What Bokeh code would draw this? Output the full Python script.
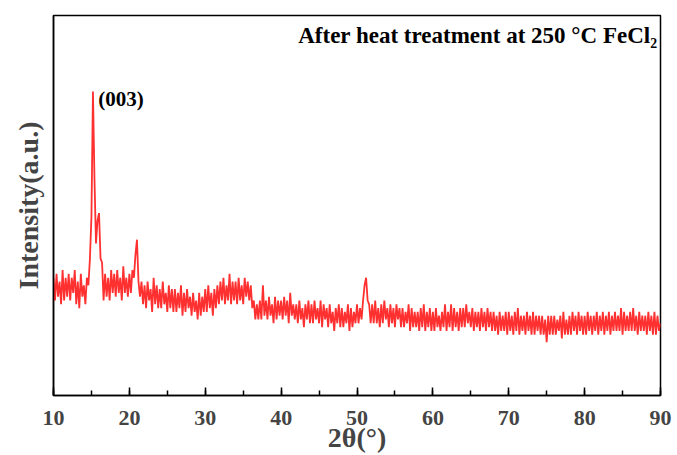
import numpy as np
from bokeh.plotting import figure
from bokeh.models import SingleIntervalTicker, FixedTicker, Range1d, Label
from bokeh.embed import file_html
from bokeh.resources import INLINE

# 2-theta sampling: 10 to 90 degrees, step 0.2
two_theta_start = 10.0
two_theta_step = 0.2

# Intensity (a.u.), one row per 2 degrees (10 samples)
intensity_10_20 = [
    31, 25, 32, 26, 30, 24, 33, 25, 31, 26,   # 10.0-11.8
    32, 25, 31, 27, 33, 24, 30, 23, 32, 26,   # 12.0-13.8
    29, 24, 31, 29, 36, 47, 80, 57, 40, 46,   # 14.0-15.8
    48, 36, 35, 25, 32, 26, 31, 25, 33, 27,   # 16.0-17.8
    32, 26, 33, 27, 31, 25, 34, 27, 31, 26,   # 18.0-19.8
]
intensity_20_40 = [
    32, 27, 33, 31, 37, 41, 30, 26, 30, 24,   # 20.0-21.8
    29, 23, 30, 25, 28, 22, 31, 24, 29, 23,   # 22.0-23.8
    28, 23, 30, 24, 27, 22, 29, 23, 28, 22,   # 24.0-25.8
    28, 22, 27, 23, 29, 21, 27, 22, 28, 23,   # 26.0-27.8
    26, 21, 27, 22, 25, 20, 27, 21, 26, 22,   # 28.0-29.8
    28, 22, 29, 23, 27, 21, 28, 23, 29, 24,   # 30.0-31.8
    30, 25, 31, 24, 29, 25, 32, 24, 30, 25,   # 32.0-33.8
    30, 24, 31, 25, 29, 24, 31, 26, 30, 25,   # 34.0-35.8
    29, 23, 25, 20, 24, 20, 25, 20, 29, 21,   # 36.0-37.8
    25, 20, 26, 21, 24, 19, 26, 20, 25, 21,   # 38.0-39.8
]
intensity_40_60 = [
    25, 20, 26, 21, 25, 19, 27, 21, 24, 20,   # 40.0-41.8
    24, 19, 25, 20, 23, 18, 24, 20, 25, 19,   # 42.0-43.8
    24, 19, 25, 20, 23, 19, 25, 18, 24, 20,   # 44.0-45.8
    23, 18, 24, 19, 22, 17, 23, 19, 24, 18,   # 46.0-47.8
    23, 18, 22, 19, 24, 17, 23, 18, 22, 19,   # 48.0-49.8
    24, 19, 23, 20, 25, 29, 31, 25, 24, 19,   # 50.0-51.8
    24, 19, 25, 19, 23, 18, 24, 19, 25, 20,   # 52.0-53.8
    23, 18, 24, 19, 23, 18, 24, 20, 23, 18,   # 54.0-55.8
    23, 18, 22, 19, 24, 17, 23, 18, 22, 18,   # 56.0-57.8
    22, 17, 23, 18, 24, 17, 22, 18, 23, 17,   # 58.0-59.8
]
intensity_60_90 = [
    22, 17, 23, 18, 21, 17, 22, 18, 24, 17,   # 60.0-61.8
    22, 18, 24, 17, 23, 18, 22, 17, 23, 18,   # 62.0-63.8
    23, 18, 24, 19, 22, 18, 23, 17, 22, 18,   # 64.0-65.8
    22, 17, 23, 18, 22, 17, 23, 18, 22, 17,   # 66.0-67.8
    22, 17, 21, 16, 22, 17, 21, 17, 22, 16,   # 68.0-69.8
    22, 17, 21, 16, 22, 17, 23, 16, 21, 17,   # 70.0-71.8
    21, 16, 22, 17, 21, 16, 22, 16, 21, 17,   # 72.0-73.8
    21, 16, 21, 16, 20, 14, 21, 16, 21, 16,   # 74.0-75.8
    21, 16, 20, 17, 21, 15, 22, 16, 20, 16,   # 76.0-77.8
    21, 16, 22, 17, 21, 16, 22, 17, 21, 16,   # 78.0-79.8
    21, 16, 22, 17, 21, 16, 21, 17, 22, 16,   # 80.0-81.8
    21, 17, 22, 16, 21, 17, 22, 16, 21, 17,   # 82.0-83.8
    22, 17, 21, 17, 23, 16, 22, 17, 21, 17,   # 84.0-85.8
    22, 17, 23, 17, 21, 16, 22, 17, 21, 17,   # 86.0-87.8
    21, 16, 22, 17, 21, 16, 22, 16, 21, 17,   # 88.0-89.8
    19,                                       # 90.0
]

peak_label = "(003)"
title_text = "After heat treatment at 250 \u00b0C FeCl\u2082"

intensity = np.array(intensity_10_20 + intensity_20_40 + intensity_40_60 + intensity_60_90, dtype=float)
two_theta = two_theta_start + two_theta_step * np.arange(len(intensity))

FONT = "Liberation Serif"

p = figure(width=677, height=455, output_backend="svg", toolbar_location=None,
           x_range=Range1d(10, 90), y_range=Range1d(0, 100),
           min_border_left=53, min_border_right=17, min_border_top=15, min_border_bottom=59)
p.background_fill_color = "white"
p.border_fill_color = "white"
p.grid.visible = False
p.outline_line_color = "black"
p.outline_line_width = 1.5
p.outline_line_alpha = 1.0

p.line(two_theta, intensity, line_color="#ff3030", line_width=1.8)

# x axis
p.xaxis.ticker = SingleIntervalTicker(interval=10, num_minor_ticks=2)
p.xaxis.axis_label = "2\u03b8(\u00b0)"
p.xaxis.axis_label_text_font = FONT
p.xaxis.axis_label_text_font_style = "bold"
p.xaxis.axis_label_text_font_size = "28px"
p.xaxis.axis_label_standoff = -6
p.xaxis.major_label_text_font = FONT
p.xaxis.major_label_text_font_style = "bold"
p.xaxis.major_label_text_font_size = "22px"
p.xaxis.major_label_standoff = 15
p.xaxis.major_tick_in = 8
p.xaxis.major_tick_out = 0
p.xaxis.minor_tick_in = 5
p.xaxis.minor_tick_out = 0
p.xaxis.axis_line_width = 1.5
p.xaxis.major_tick_line_width = 1.5
p.xaxis.minor_tick_line_width = 1.5

# y axis
p.yaxis.ticker = FixedTicker(ticks=[])
p.yaxis.major_tick_out = 0
p.yaxis.major_tick_in = 0
p.yaxis.minor_tick_out = 0
p.yaxis.minor_tick_in = 0
p.yaxis.major_label_standoff = 0
p.yaxis.axis_label = "Intensity(a.u.)"
p.yaxis.axis_label_text_font = FONT
p.yaxis.axis_label_text_font_style = "bold"
p.yaxis.axis_label_text_font_size = "28px"
p.yaxis.axis_label_standoff = 10
p.yaxis.axis_line_width = 1.5

# peak annotation anchored to the strongest peak
ipk = int(np.argmax(intensity))
p.add_layout(Label(x=two_theta[ipk] + 0.7, y=intensity[ipk] - 2, text=peak_label,
                   text_font=FONT, text_font_style="bold", text_font_size="21px",
                   text_baseline="middle", text_align="left", text_color="black"))

# title inside the frame, top-right (screen units relative to the frame)
p.add_layout(Label(x=604, y=360, x_units="screen", y_units="screen", text=title_text,
                   text_font=FONT, text_font_style="bold", text_font_size="23px",
                   text_baseline="middle", text_align="right", text_color="black"))

open("out.html", "w").write(file_html(p, INLINE))
